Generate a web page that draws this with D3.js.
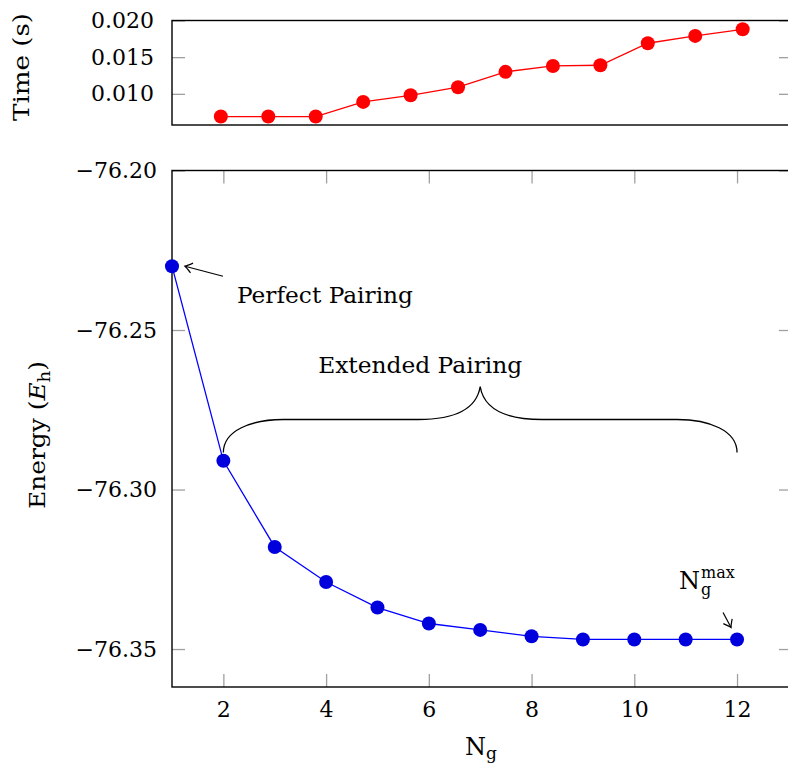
<!DOCTYPE html>
<html>
<head>
<meta charset="utf-8">
<script src="https://cdn.jsdelivr.net/npm/d3@7"></script>
<style>
  body { margin: 0; background: #fff; }
  .tick line { stroke: #a0a0a0; stroke-width: 1.3; }
</style>
</head>
<body>
<svg id="chart" width="788" height="767"></svg>
<script>
// number of geminal groups
var ng = [1, 2, 3, 4, 5, 6, 7, 8, 9, 10, 11, 12];
// time per iteration (s), top panel, shown for Ng = 1..12
var timeVals = [0.0069, 0.0069, 0.0069, 0.0089, 0.0098, 0.0109, 0.0130, 0.0138, 0.0139, 0.0169, 0.0179, 0.0188];
// energy (Eh), bottom panel
var energyVals = [-76.230, -76.291, -76.318, -76.329, -76.337, -76.342, -76.344, -76.346, -76.347, -76.347, -76.347, -76.347];

var timeTicks = [0.010, 0.015, 0.020];
var energyTicks = [-76.20, -76.25, -76.30, -76.35];
var ngTicks = [2, 4, 6, 8, 10, 12];

var svg = d3.select("#chart");
var FS = 22;
var SERIF = "DejaVu Serif";

var left = 172, right = 792;

/**
 * top panel : timing
 */
var xt = d3.scaleLinear().domain([-0.03, 13.04]).range([left, right]);
var yt = d3.scaleLinear().domain([0.00575, 0.020]).range([125, 20.5]);

var timePanel = svg.append("g");

timePanel.append("g")
	.attr("transform", "translate(" + left + ",0)")
	.call(d3.axisLeft(yt).tickValues(timeTicks).tickSize(-13).tickPadding(18).tickFormat(d3.format(".3f")))
	.call(function (g) { g.select(".domain").remove(); })
	.selectAll("text").style("font-size", FS + "px");

timePanel.append("g")
	.attr("transform", "translate(" + right + ",0)")
	.call(d3.axisRight(yt).tickValues(timeTicks).tickSize(-13).tickFormat(""))
	.call(function (g) { g.select(".domain").remove(); });

timePanel.append("rect")
	.attr("x", left).attr("y", yt(0.020))
	.attr("width", right - left).attr("height", yt.range()[0] - yt(0.020))
	.attr("fill", "none").attr("stroke", "#000").attr("stroke-width", 1.4);

var tline = d3.line().x(function (d, i) { return xt(ng[i]); }).y(function (d) { return yt(d); });
timePanel.append("path").datum(timeVals)
	.attr("d", tline).attr("fill", "none").attr("stroke", "#ff0000").attr("stroke-width", 1.3);
timePanel.selectAll("circle").data(timeVals).enter().append("circle")
	.attr("cx", function (d, i) { return xt(ng[i]); })
	.attr("cy", function (d) { return yt(d); })
	.attr("r", 7).attr("fill", "#ff0000");

timePanel.append("text")
	.attr("transform", "translate(29," + 67 + ") rotate(-90)")
	.attr("text-anchor", "middle").style("font-size", FS + "px")
	.attr("textLength", 108).attr("lengthAdjust", "spacingAndGlyphs")
	.text("Time (s)");

/**
 * bottom panel : energy
 */
var x = d3.scaleLinear().domain([1, 13.07]).range([left, right]);
var y = d3.scaleLinear().domain([-76.3619, -76.20]).range([687, 170.5]);

var bot = svg.append("g");

bot.append("g")
	.attr("transform", "translate(" + left + ",0)")
	.call(d3.axisLeft(y).tickValues(energyTicks).tickSize(-13).tickPadding(15).tickFormat(d3.format(".2f")))
	.call(function (g) { g.select(".domain").remove(); })
	.selectAll("text").style("font-size", FS + "px");

bot.append("g")
	.attr("transform", "translate(" + right + ",0)")
	.call(d3.axisRight(y).tickValues(energyTicks).tickSize(-13).tickFormat(""))
	.call(function (g) { g.select(".domain").remove(); });

bot.append("g")
	.attr("transform", "translate(0," + y.range()[0] + ")")
	.call(d3.axisBottom(x).tickValues(ngTicks).tickSize(-13).tickPadding(14).tickFormat(d3.format("d")))
	.call(function (g) { g.select(".domain").remove(); })
	.selectAll("text").style("font-size", FS + "px");

bot.append("g")
	.attr("transform", "translate(0," + y.range()[1] + ")")
	.call(d3.axisTop(x).tickValues(ngTicks).tickSize(-13).tickFormat(""))
	.call(function (g) { g.select(".domain").remove(); });

bot.append("rect")
	.attr("x", left).attr("y", y.range()[1])
	.attr("width", right - left).attr("height", y.range()[0] - y.range()[1])
	.attr("fill", "none").attr("stroke", "#000").attr("stroke-width", 1.4);

var eline = d3.line().x(function (d, i) { return x(ng[i]); }).y(function (d) { return y(d); });
bot.append("path").datum(energyVals)
	.attr("d", eline).attr("fill", "none").attr("stroke", "#0000ff").attr("stroke-width", 1.3);
bot.selectAll("circle").data(energyVals).enter().append("circle")
	.attr("cx", function (d, i) { return x(ng[i]); })
	.attr("cy", function (d) { return y(d); })
	.attr("r", 7).attr("fill", "#0000dd");

// axis labels
var ylab = bot.append("text")
	.attr("transform", "translate(45,435) rotate(-90)")
	.attr("text-anchor", "middle").style("font-size", FS + "px")
	.attr("textLength", 148).attr("lengthAdjust", "spacingAndGlyphs");
ylab.append("tspan").text("Energy (");
ylab.append("tspan").style("font-style", "italic").text("E");
ylab.append("tspan").attr("dy", 5).style("font-size", "16px").text("h");
ylab.append("tspan").attr("dy", -5).text(")");

var xlab = bot.append("text")
	.attr("x", 481).attr("y", 755)
	.attr("text-anchor", "middle").style("font-size", "24px");
xlab.append("tspan").text("N");
xlab.append("tspan").attr("dy", 4).style("font-size", "17px").text("g");

/**
 * annotations
 */
var defs = svg.append("defs");
defs.append("marker")
	.attr("id", "tip").attr("viewBox", "-8 -6 10 12")
	.attr("markerWidth", 10).attr("markerHeight", 12)
	.attr("markerUnits", "userSpaceOnUse")
	.attr("orient", "auto")
	.append("path")
	.attr("d", "M-7,-5 Q-2,-1 0,0 Q-2,1 -7,5")
	.attr("fill", "none").attr("stroke", "#000").attr("stroke-width", 1.2);

// perfect pairing
var p0x = x(ng[0]), p0y = y(energyVals[0]);
bot.append("line")
	.attr("x1", p0x + 51).attr("y1", p0y + 10)
	.attr("x2", p0x + 13).attr("y2", p0y)
	.attr("stroke", "#000").attr("stroke-width", 1.2)
	.attr("marker-end", "url(#tip)");
bot.append("text")
	.attr("x", p0x + 65).attr("y", p0y + 37)
	.attr("textLength", 176).attr("lengthAdjust", "spacingAndGlyphs")
	.style("font-size", FS + "px").text("Perfect Pairing");

// extended pairing brace
var bx0 = x(2), bx1 = x(12), bxm = x(7), by = y(-76.2884), amp = 66;
var bh = amp / 2;
var brace = "M" + bx0 + "," + by +
	" C" + bx0 + "," + (by - 22) + " " + (bx0 + 28) + "," + (by - bh) + " " + (bx0 + 60) + "," + (by - bh) +
	" L" + (bxm - 62) + "," + (by - bh) +
	" C" + (bxm - 30) + "," + (by - bh) + " " + (bxm - 4) + "," + (by - bh - 8) + " " + bxm + "," + (by - amp) +
	" C" + (bxm + 4) + "," + (by - bh - 8) + " " + (bxm + 30) + "," + (by - bh) + " " + (bxm + 62) + "," + (by - bh) +
	" L" + (bx1 - 60) + "," + (by - bh) +
	" C" + (bx1 - 28) + "," + (by - bh) + " " + bx1 + "," + (by - 22) + " " + bx1 + "," + by;
bot.append("path").attr("d", brace)
	.attr("fill", "none").attr("stroke", "#000").attr("stroke-width", 1.3);
bot.append("text")
	.attr("x", bxm - 60).attr("y", by - amp - 14)
	.attr("text-anchor", "middle")
	.attr("textLength", 204).attr("lengthAdjust", "spacingAndGlyphs")
	.style("font-size", FS + "px").text("Extended Pairing");

// Ng max, one text with stacked sub/superscript
var mx = x(12), my = y(energyVals[11]);
bot.append("line")
	.attr("x1", mx - 14).attr("y1", my - 27)
	.attr("x2", mx - 6).attr("y2", my - 12)
	.attr("stroke", "#000").attr("stroke-width", 1.2)
	.attr("marker-end", "url(#tip)");
var nmax = bot.append("text").attr("x", mx - 58).attr("y", my - 50)
	.style("font-size", "24px").style("font-family", SERIF);
nmax.append("tspan").text("N");
var nx = mx - 58 + nmax.node().getComputedTextLength() + 1;
nmax.append("tspan").attr("x", nx).attr("dy", 6).style("font-size", "16px").text("g");
nmax.append("tspan").attr("x", nx).attr("dy", -17).style("font-size", "16px").text("max");

// every label in the serif face
svg.selectAll("text").style("font-family", SERIF);
</script>
</body>
</html>
